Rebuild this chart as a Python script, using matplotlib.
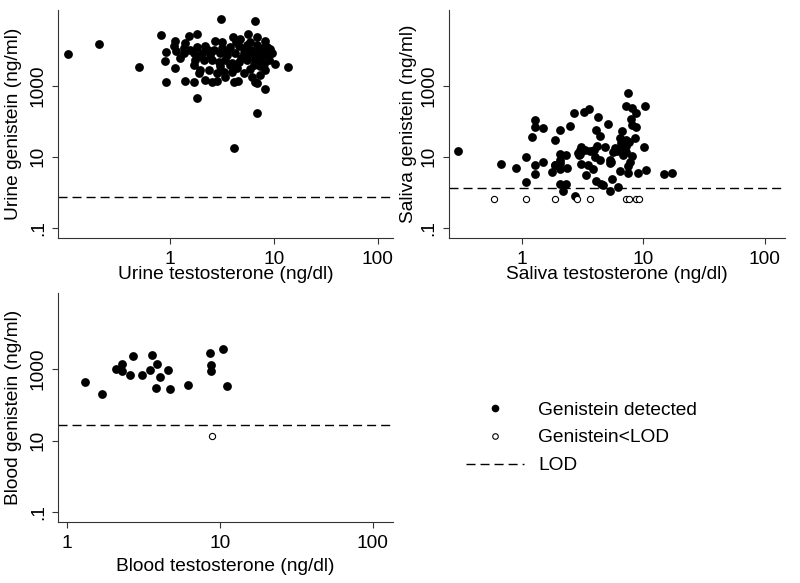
import matplotlib
matplotlib.use("Agg")
import matplotlib.pyplot as plt
from matplotlib.lines import Line2D

plt.rcParams['font.family'] = ['Liberation Sans', 'DejaVu Sans']

# urine: testosterone (ng/dl) vs genistein (ng/ml), all detected
urine_testosterone = [3.09, 6.58, 0.81, 1.51, 1.81, 4.03, 5.59, 4.75, 6.87, 1.11,
                      2.72, 3.16, 4.34, 5.93, 8.28, 8.59, 9.25, 1.08, 1.35, 1.56,
                      1.81, 2.18, 2.62, 3.16, 3.80, 4.57, 5.51, 6.87, 7.41, 8.28,
                      0.91, 1.13, 1.35, 1.68, 2.02, 2.43, 3.04, 3.53, 4.25, 5.11,
                      6.15, 7.13, 8.59, 9.60, 0.90, 1.25, 1.74, 2.10, 2.53, 2.93,
                      3.40, 3.94, 4.57, 5.51, 6.62, 7.69, 8.91, 10.3, 1.11, 1.68,
                      1.95, 2.35, 3.04, 3.80, 4.41, 5.93, 7.41, 8.28, 1.88, 2.18,
                      2.82, 3.40, 3.94, 5.11, 6.15, 7.41, 0.91, 1.40, 1.68, 2.53,
                      2.82, 4.09, 4.47, 6.62, 6.87, 8.28, 1.81, 0.103, 0.205, 0.506,
                      4.15, 6.88, 13.7, 6.0, 7.0, 5.5, 6.5, 7.8, 4.8, 3.5,
                      2.3, 1.9, 5.2, 7.3, 8.0, 3.3, 6.4, 1.4]
urine_genistein = [77100, 67800, 27300, 26200, 28500, 24500, 29100, 20600, 24500, 18500,
                   18500, 17000, 17700, 17700, 18900, 12800, 10800, 13400, 11500, 10300,
                   12300, 13400, 10300, 11500, 12800, 13400, 14300, 14300, 10800, 9270,
                   9070, 9890, 8690, 8690, 8320, 7470, 8320, 7470, 8320, 8690,
                   8690, 7470, 7470, 8320, 5050, 6010, 5390, 5390, 5390, 4840,
                   5390, 4540, 4840, 5390, 5390, 4840, 5390, 4170, 3150, 3910,
                   2820, 2820, 3510, 3910, 3150, 2950, 3510, 2820, 2270, 1480,
                   2270, 1830, 2530, 2270, 1830, 2040, 1270, 1380, 1270, 1320,
                   1410, 1320, 1410, 1320, 1190, 823, 449, 7800, 14900, 3430,
                   17.2, 177, 3430, 10000, 9000, 7000, 6500, 12000, 6000, 9800,
                   10500, 7000, 11000, 6000, 4000, 2500, 3800, 16000]
urine_lod = 0.76

# saliva
saliva_testosterone = [0.30, 0.68, 0.90, 1.09, 1.09, 1.29, 1.29, 1.29, 1.29, 1.21,
                       1.50, 1.50, 1.78, 1.90, 1.87, 2.08, 2.05, 2.30, 2.08, 2.36,
                       2.08, 2.30, 2.19, 2.52, 2.68, 2.77, 3.10, 3.04, 3.00, 2.95,
                       3.10, 3.41, 3.26, 3.58, 3.52, 3.67, 3.86, 3.94, 4.25, 4.12,
                       4.39, 4.20, 4.39, 4.12, 4.47, 4.67, 4.82, 5.17, 5.37, 5.37,
                       5.54, 5.30, 5.65, 5.83, 6.21, 6.41, 6.74, 6.82, 6.61, 6.45,
                       7.50, 7.27, 8.15, 8.79, 8.00, 8.15, 8.79, 7.27, 7.27, 7.27,
                       7.60, 8.51, 8.15, 7.84, 7.55, 7.55, 9.01, 10.4, 10.2, 10.6,
                       14.7, 17.3, 5.45, 6.09, 6.82, 1.90, 2.05, 2.05, 3.3, 2.9, 4.0]
saliva_genistein = [14.8, 6.35, 4.80, 10.2, 1.89, 5.70, 3.32, 110, 68.5, 35.8,
                    64.3, 7.08, 3.78, 30.1, 5.70, 55.2, 12.2, 11.6, 6.63, 4.90,
                    1.70, 1.70, 1.10, 74.7, 170, 0.80, 18.7, 12.2, 15.1, 11.6,
                    6.21, 2.98, 189, 220, 5.70, 14.8, 4.59, 15.3, 131, 55.2,
                    37.4, 20.8, 7.88, 2.11, 1.70, 1.63, 19.5, 83.2, 7.88, 6.63,
                    2.40, 1.10, 14.1, 18.3, 1.37, 33.6, 51.7, 11.6, 24.3, 4.03,
                    621, 262, 235, 170, 118, 79.6, 71.5, 30.1, 19.7, 14.1,
                    27.0, 33.6, 10.7, 6.92, 5.35, 3.47, 3.47, 262, 19.5, 4.30,
                    3.32, 3.47, 7.0, 14.8, 19.5, 5.96, 8.2, 4.5, 16, 13, 10]
saliva_nd_testosterone = [0.59, 1.09, 1.89, 2.87, 3.67, 7.18, 7.60, 8.67, 9.24]
saliva_nd_genistein = [0.65, 0.65, 0.65, 0.65, 0.65, 0.65, 0.65, 0.65, 0.65]
saliva_lod = 1.3

# blood
blood_testosterone = [1.31, 1.69, 2.09, 2.31, 2.31, 2.71, 2.61, 3.09, 3.49, 3.59,
                      3.82, 3.91, 4.10, 4.57, 4.71, 6.18, 8.69, 8.73, 8.73, 10.5, 11.2]
blood_genistein = [450, 202, 1045, 1444, 898, 2376, 678, 678, 937, 2476,
                   292, 1444, 608, 937, 273, 362, 2824, 1297, 898, 3580, 340]
blood_nd_testosterone = [8.87]
blood_nd_genistein = [13.8]
blood_lod = 27.6

fs = 13.8
fig = plt.figure(figsize=(8, 5.83), dpi=100)


def setup(ax, xlim, xlabel, ylabel, ylab_x, xlab_y=-0.125):
    ax.set_xscale('log')
    ax.set_yscale('log')
    ax.set_xlim(*xlim)
    ax.set_ylim(0.052, 138000)
    ax.set_xticks([1, 10, 100])
    ax.set_xticklabels(['1', '10', '100'])
    ax.set_yticks([0.1, 10, 1000])
    ax.set_yticklabels(['.1', '10', '1000'], rotation=90, va='center')
    ax.minorticks_off()
    ax.tick_params(direction='out', length=4, width=0.8, labelsize=fs, color='#333333')
    ax.tick_params(axis='y', pad=4)
    ax.tick_params(axis='x', pad=5.5)
    for s in ['top', 'right']:
        ax.spines[s].set_visible(False)
    for s in ['left', 'bottom']:
        ax.spines[s].set_linewidth(0.8)
        ax.spines[s].set_color('#333333')
    ax.set_xlabel(xlabel, fontsize=fs)
    ax.set_ylabel(ylabel, fontsize=fs)
    ax.yaxis.set_label_coords(ylab_x, 0.5)
    ax.xaxis.set_label_coords(0.5, xlab_y)


def lod_line(ax, lod):
    ax.axhline(lod, color='black', lw=1.0, dashes=(6.5, 3.6))


ax1 = fig.add_axes([0.0725, 0.592, 0.419, 0.391])
ax1.scatter(urine_testosterone, urine_genistein, s=40, color='black', lw=0)
lod_line(ax1, urine_lod)
setup(ax1, (0.083, 141), 'Urine testosterone (ng/dl)', 'Urine genistein (ng/ml)', -0.107)

ax2 = fig.add_axes([0.561, 0.592, 0.42, 0.391])
ax2.scatter(saliva_testosterone, saliva_genistein, s=40, color='black', lw=0)
ax2.scatter(saliva_nd_testosterone, saliva_nd_genistein, s=20, facecolor='white',
            edgecolor='black', lw=0.8)
lod_line(ax2, saliva_lod)
setup(ax2, (0.252, 146), 'Saliva testosterone (ng/dl)', 'Saliva genistein (ng/ml)', -0.095)

ax3 = fig.add_axes([0.0725, 0.1046, 0.419, 0.393])
ax3.scatter(blood_testosterone, blood_genistein, s=40, color='black', lw=0)
ax3.scatter(blood_nd_testosterone, blood_nd_genistein, s=20, facecolor='white',
            edgecolor='black', lw=0.8)
lod_line(ax3, blood_lod)
setup(ax3, (0.877, 136), 'Blood testosterone (ng/dl)', 'Blood genistein (ng/ml)', -0.107,
      xlab_y=-0.155)

handles = [
    Line2D([], [], ls='none', marker='o', ms=4.5, mfc='black', mec='black'),
    Line2D([], [], ls='none', marker='o', ms=4.0, mfc='white', mec='black', mew=0.8),
    Line2D([], [], color='black', lw=1.0, dashes=(6.5, 3.6)),
]
labels = ['Genistein detected', 'Genistein<LOD', 'LOD']
fig.legend(handles, labels, loc='upper left', bbox_to_anchor=(0.5825, 0.312),
           frameon=False, fontsize=fs, handlelength=3.0, handletextpad=0.75,
           labelspacing=0.55, borderpad=0, borderaxespad=0)

fig.savefig('out.png', dpi=100)
